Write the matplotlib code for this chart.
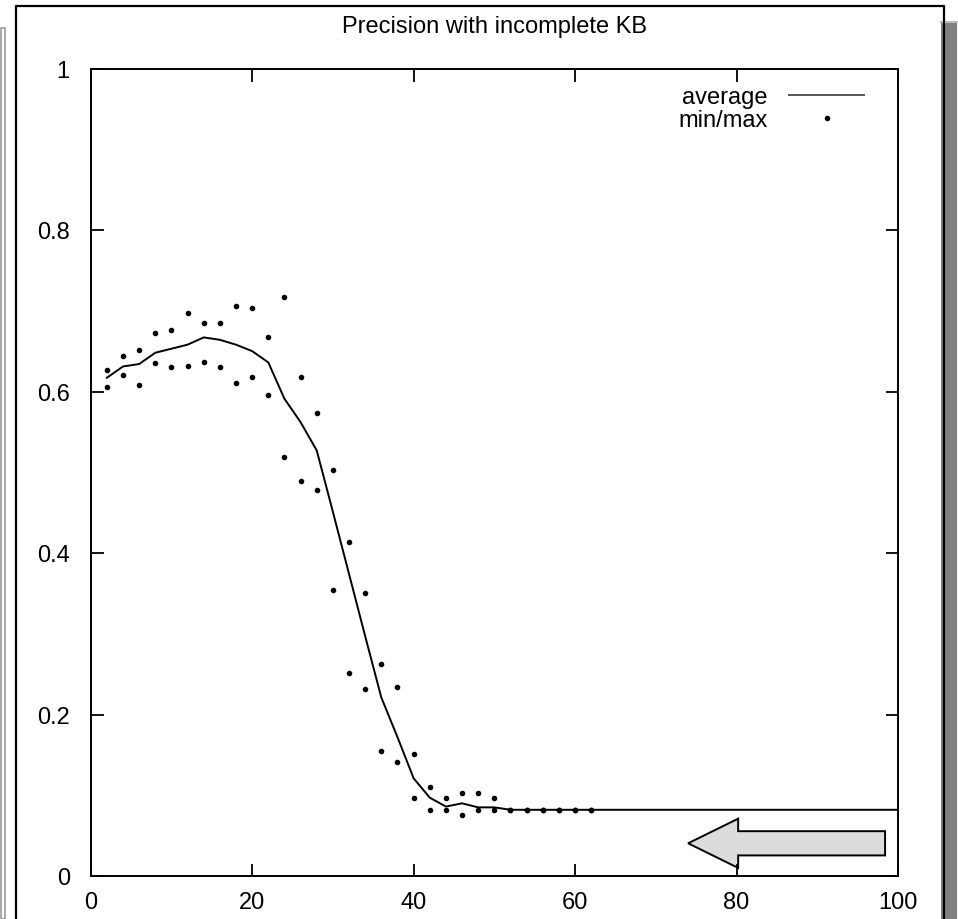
import matplotlib
matplotlib.use("Agg")
import matplotlib.pyplot as plt
from matplotlib.patches import Rectangle, FancyArrow
from matplotlib.lines import Line2D

plt.rcParams['font.family'] = ['Liberation Sans', 'DejaVu Sans']

# average precision (line)
avg_x = [2, 4, 6, 8, 10, 12, 14, 16, 18, 20, 22, 24, 26, 28, 30, 32,
         34, 36, 38, 40, 42, 44, 46, 48, 50, 52, 54, 56, 58, 60, 62, 100]
avg_y = [0.617, 0.631, 0.634, 0.648, 0.653, 0.658, 0.667, 0.664, 0.658,
         0.650, 0.636, 0.591, 0.562, 0.527, 0.451, 0.374, 0.297, 0.221,
         0.172, 0.121, 0.097, 0.086, 0.090, 0.085, 0.085, 0.082, 0.082,
         0.082, 0.082, 0.082, 0.082, 0.082]

# min / max dots
mm_x = [2, 4, 6, 8, 10, 12, 14, 16, 18, 20, 22, 24, 26, 28, 30, 32,
        34, 36, 38, 40, 42, 44, 46, 48, 50, 52, 54, 56, 58, 60, 62]
max_y = [0.627, 0.644, 0.651, 0.672, 0.676, 0.697, 0.685, 0.685, 0.706,
         0.704, 0.668, 0.717, 0.618, 0.573, 0.503, 0.414, 0.351, 0.262,
         0.234, 0.151, 0.110, 0.096, 0.103, 0.103, 0.096, 0.082, 0.082,
         0.082, 0.082, 0.082, 0.082]
min_y = [0.606, 0.621, 0.608, 0.635, 0.630, 0.632, 0.636, 0.630, 0.610,
         0.618, 0.596, 0.519, 0.489, 0.478, 0.354, 0.251, 0.231, 0.155,
         0.141, 0.096, 0.082, 0.082, 0.076, 0.082, 0.082, 0.082, 0.082,
         0.082, 0.082, 0.082, 0.082]

x_ticks = [0, 20, 40, 60, 80, 100]
y_ticks = [0, 0.2, 0.4, 0.6, 0.8, 1]
y_tick_labels = ['0', '0.2', '0.4', '0.6', '0.8', '1']

W, H = 958, 920
FS = 17
fig = plt.figure(figsize=(W / 100, H / 100), dpi=100)
ax = fig.add_axes([90.7 / W, 43 / H, 807.3 / W, 807.5 / H])

ax.plot(avg_x, avg_y, color='black', lw=1.4, label='average')
ax.plot(mm_x + mm_x, max_y + min_y, ls='none', marker='o', ms=3,
        color='black', label='min/max')

ax.set_xlim(0, 100)
ax.set_ylim(0, 1)
ax.set_xticks(x_ticks)
ax.set_xticklabels([str(t) for t in x_ticks])
ax.set_yticks(y_ticks)
ax.set_yticklabels(y_tick_labels)
ax.tick_params(direction='in', length=9, width=1.3, labelsize=FS,
               top=True, right=True)
ax.tick_params(axis='y', pad=15)
ax.tick_params(axis='x', pad=11)
for sp in ax.spines.values():
    sp.set_linewidth(1.4)

ax.set_title('Precision with incomplete KB', fontsize=FS, pad=26)

leg = ax.legend(loc='upper right', bbox_to_anchor=(0.97, 0.99), frameon=False,
                markerfirst=False, fontsize=FS, handlelength=3.2,
                handletextpad=0.9, labelspacing=0.05, borderaxespad=0)
leg.get_lines()[0].set_color('#555555')

# block arrow in the lower right corner
arrow = FancyArrow(98.4, 0.0405, -24.4, 0, width=0.030, head_width=0.061,
                   head_length=6.2, length_includes_head=True,
                   facecolor='#dcdcdc', edgecolor='black', lw=1.4)
ax.add_patch(arrow)

# window-like frame around the plot (pixel coords -> figure fractions)
def fx(px):
    return px / W

def fy(py):
    return 1 - py / H

fig.add_artist(Rectangle((fx(941), 0), fx(16), fy(23), transform=fig.transFigure,
                         facecolor='#808080', edgecolor='none'))
fig.add_artist(Line2D([fx(941), fx(957)], [fy(23), fy(23)], transform=fig.transFigure,
                      color='#bbbbbb', lw=1.5))
fig.add_artist(Rectangle((fx(0.8), 0), fx(3.8), fy(29), transform=fig.transFigure,
                         facecolor='none', edgecolor='#999999', lw=1.2))
fig.add_artist(Line2D([fx(16), fx(16), fx(944), fx(944)],
                      [0, fy(7), fy(7), 0], transform=fig.transFigure,
                      color='black', lw=1.6))

fig.savefig('out.png', dpi=100)
